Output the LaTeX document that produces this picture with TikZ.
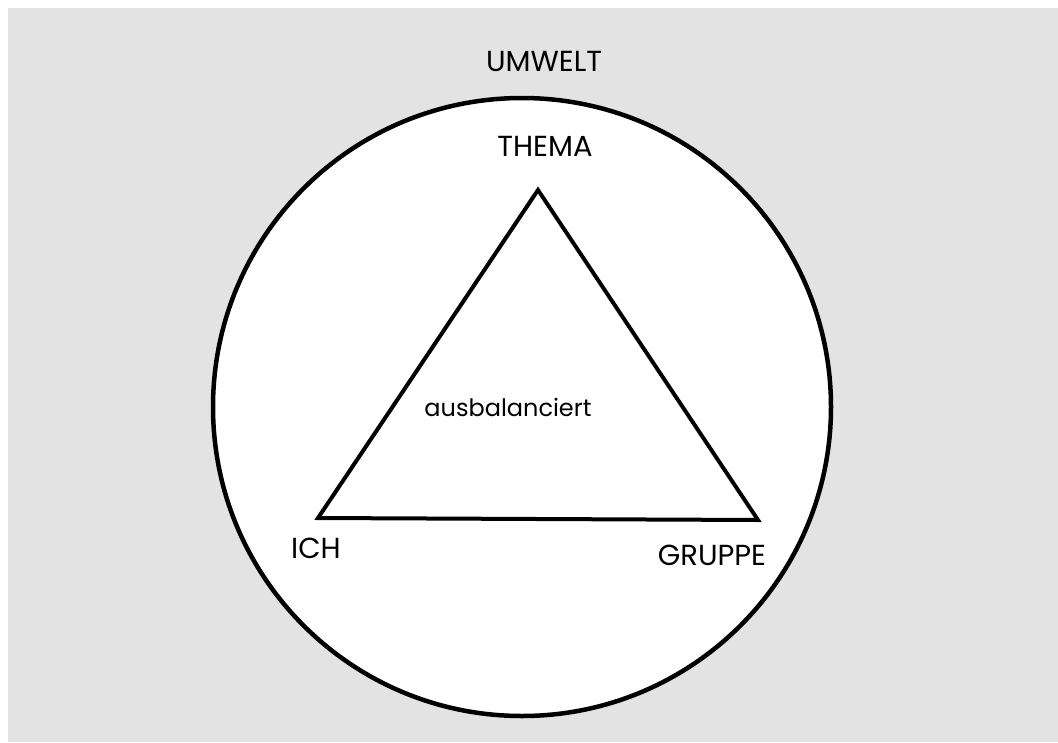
\documentclass[tikz,border=0pt]{standalone}
\usepackage{fontspec}
\setmainfont{Poppins}
\begin{document}
\begin{tikzpicture}[x=1pt,y=-1pt,
  lab/.style={inner sep=0pt,font=\fontsize{29}{33}\selectfont},
  thick line/.style={line width=4pt,line join=miter}]
\useasboundingbox (0,0) rectangle (1058,742);
\fill[gray!22] (8,8) rectangle (1058,742);
\node[circle,draw,fill=white,line width=4.5pt,minimum size=618pt,inner sep=0pt] (umwelt) at (522,407) {};
\coordinate (t) at (538,190);
\coordinate (l) at (318,518);
\coordinate (r) at (758,520);
\draw[thick line] (t) -- (r) -- (l) -- cycle;
\node[lab] (uw) at (544,61) {UMWELT};
\node[lab] (thema) at (545,146) {THEMA};
\node[lab] (ich) at (316,548) {ICH};
\node[lab] (gruppe) at (712,555) {GRUPPE};
\node[lab,font=\fontsize{24}{28}\selectfont] (aus) at (508,407) {ausbalanciert};
\end{tikzpicture}
\end{document}
